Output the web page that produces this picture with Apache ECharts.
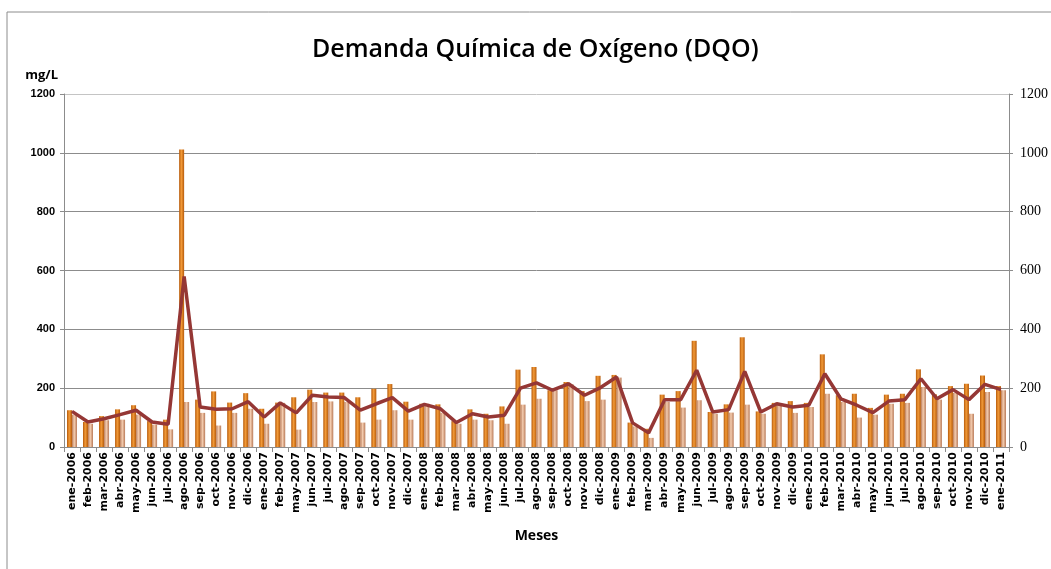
<!DOCTYPE html>
<html>
<head>
<meta charset="utf-8">
<script src="https://cdn.jsdelivr.net/npm/echarts@6/dist/echarts.min.js"></script>
<style>
  html, body { margin: 0; padding: 0; background: #fff; }
  #chart { width: 1051px; height: 569px; }
</style>
</head>
<body>
<div id="chart"></div>
<script>
var meses = [
  "ene-2006", "feb-2006", "mar-2006", "abr-2006", "may-2006", "jun-2006",
  "jul-2006", "ago-2006", "sep-2006", "oct-2006", "nov-2006", "dic-2006",
  "ene-2007", "feb-2007", "may-2007", "jun-2007", "jul-2007", "ago-2007",
  "sep-2007", "oct-2007", "nov-2007", "dic-2007",
  "ene-2008", "feb-2008", "mar-2008", "abr-2008", "may-2008", "jun-2008",
  "jul-2008", "ago-2008", "sep-2008", "oct-2008", "nov-2008", "dic-2008",
  "ene-2009", "feb-2009", "mar-2009", "abr-2009", "may-2009", "jun-2009",
  "jul-2009", "ago-2009", "sep-2009", "oct-2009", "nov-2009", "dic-2009",
  "ene-2010", "feb-2010", "mar-2010", "abr-2010", "may-2010", "jun-2010",
  "jul-2010", "ago-2010", "sep-2010", "oct-2010", "nov-2010", "dic-2010",
  "ene-2011"
];

var dqoAlta = [
  125, 85, 105, 128, 142, 88, 93, 1011, 161, 189,
  151, 183, 130, 151, 169, 195, 185, 185, 169, 198,
  214, 154, 147, 145, 88, 128, 113, 138, 263, 272,
  193, 221, 190, 242, 245, 83, 62, 178, 190, 361,
  119, 145, 373, 121, 150, 156, 150, 315, 176, 181,
  133, 178, 181, 264, 179, 207, 215, 243, 207
];

var dqoBaja = [
  110, 79, 91, 93, 110, 76, 60, 153, 116, 73,
  116, 130, 79, 150, 59, 153, 155, 153, 83, 93,
  125, 93, 147, 116, 79, 93, 91, 79, 144, 164,
  193, 213, 156, 161, 236, 70, 31, 153, 134, 159,
  113, 117, 144, 113, 147, 116, 136, 181, 153, 100,
  110, 147, 150, 204, 161, 184, 113, 187, 193
];

var dqoPromedio = [
  121, 85, 96, 110, 125, 85, 77, 580, 136, 128,
  130, 154, 102, 150, 116, 176, 170, 168, 125, 147,
  168, 122, 145, 130, 83, 113, 102, 108, 200, 218,
  193, 215, 176, 202, 238, 82, 48, 161, 161, 261,
  119, 127, 257, 119, 147, 136, 142, 249, 164, 142,
  117, 156, 161, 232, 164, 195, 161, 213, 195
];

var ejeMin = 0, ejeMax = 1200, ejeInterval = 200;

var chart = echarts.init(document.getElementById("chart"));

function barGradient(dark, light) {
  return new echarts.graphic.LinearGradient(0, 0, 1, 0, [
    { offset: 0, color: dark },
    { offset: 0.45, color: light },
    { offset: 1, color: dark }
  ]);
}

// plain numbers, no thousands separator
function plain(v) {
  return String(v);
}

var option = {
  animation: false,
  backgroundColor: "#fff",
  graphic: [
    {
      type: "rect",
      shape: { x: 7, y: 12, width: 1200, height: 700 },
      style: { fill: "none", stroke: "#8c8c8c", lineWidth: 1 }
    }
  ],
  title: {
    text: "Demanda Química de Oxígeno (DQO)",
    left: 307,
    top: 32,
    textStyle: {
      fontFamily: "Open Sans",
      fontSize: 25,
      fontWeight: 600,
      color: "#000"
    }
  },
  grid: { left: 64, right: 35, top: 94, bottom: 122, containLabel: false },
  xAxis: {
    type: "category",
    data: meses,
    name: "Meses",
    nameLocation: "middle",
    nameGap: 82,
    nameTextStyle: { fontFamily: "Open Sans", fontSize: 14, fontWeight: "bold", color: "#000" },
    axisLine: { lineStyle: { color: "#8c8c8c" } },
    axisTick: { show: true, alignWithLabel: false, length: 5, lineStyle: { color: "#8c8c8c" } },
    axisLabel: {
      rotate: 90,
      interval: 0,
      margin: 5,
      fontFamily: "DejaVu Sans",
      fontSize: 11,
      fontWeight: "bold",
      color: "#000"
    }
  },
  yAxis: [
    {
      type: "value",
      min: ejeMin,
      max: ejeMax,
      interval: ejeInterval,
      name: "mg/L",
      nameLocation: "end",
      nameGap: 12,
      nameTextStyle: { fontFamily: "Open Sans", fontSize: 13, fontWeight: "bold", color: "#000", align: "right", padding: [0, 6, 0, 0] },
      axisLine: { show: true, lineStyle: { color: "#8c8c8c" } },
      axisTick: { show: true, length: 4, lineStyle: { color: "#8c8c8c" } },
      axisLabel: { fontFamily: "Liberation Sans", fontSize: 11, fontWeight: "bold", color: "#000", margin: 9, formatter: plain },
      splitLine: { show: true, lineStyle: { color: ["#8c8c8c", "#8c8c8c", "#8c8c8c", "#8c8c8c", "#8c8c8c", "#8c8c8c", "#c4c4c4"], width: 1 } }
    },
    {
      type: "value",
      min: ejeMin,
      max: ejeMax,
      interval: ejeInterval,
      position: "right",
      axisLine: { show: true, lineStyle: { color: "#8c8c8c" } },
      axisTick: { show: true, length: 4, lineStyle: { color: "#8c8c8c" } },
      axisLabel: { fontFamily: "Liberation Serif", fontSize: 14, color: "#000", margin: 11, formatter: plain },
      splitLine: { show: false }
    }
  ],
  series: [
    {
      name: "DQO máxima",
      type: "bar",
      data: dqoAlta,
      barWidth: 5,
      barGap: "0%",
      itemStyle: { color: barGradient("#b65a0a", "#f29a38") }
    },
    {
      name: "DQO mínima",
      type: "bar",
      data: dqoBaja,
      barWidth: 5,
      itemStyle: { color: barGradient("#b97a58", "#f4cdb0") }
    },
    {
      name: "Promedio",
      type: "line",
      yAxisIndex: 1,
      data: dqoPromedio,
      symbol: "none",
      lineStyle: { color: "#953735", width: 3.5 },
      z: 5
    }
  ]
};

chart.setOption(option);
</script>
</body>
</html>
